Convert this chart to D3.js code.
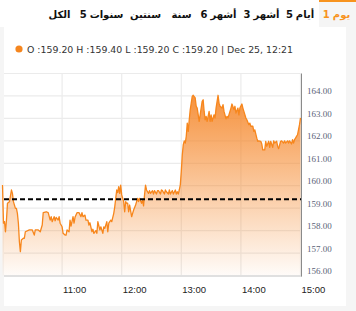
<!doctype html>
<html lang="ar">
<head>
<meta charset="utf-8">
<title>1 يوم</title>
<script src="https://d3js.org/d3.v7.min.js"></script>
<style>
  body { margin: 0; background: #f5f5f5; }
  svg { display: block; }
  .tab text { font-family: "DejaVu Sans", sans-serif; font-size: 10px; font-weight: bold; fill: #111; }
  .tab.active text { fill: #f7931e; }
  .legend { font-family: "DejaVu Sans", sans-serif; font-size: 9.4px; fill: #333; }
  .ylab { font-family: "Liberation Serif", serif; font-size: 9px; fill: #5a6378; }
  .xlab { font-family: "Liberation Sans", sans-serif; font-size: 9.5px; fill: #222; }
</style>
</head>
<body>
<script>
// period tabs, right to left
var tabs = ["1 يوم", "5 أيام", "3 أشهر", "6 أشهر", "سنة", "سنتين", "5 سنوات", "الكل"];
var tabCenters = [336.5, 300, 261.5, 218.5, 181.5, 145.5, 101.5, 59.5];

var legendText = "O :159.20 H :159.40 L :159.20 C :159.20 | Dec 25, 12:21";

// intraday series, minutes after 10:00 and price
var minutesFromOpen = [
  0, 1, 2, 3, 4, 5, 7, 9, 10, 11, 13, 14, 15, 16, 17, 18, 19, 21, 22, 23,
  27, 30, 32, 33, 36, 38, 40, 41, 44, 46, 48, 49, 50, 52, 53, 54, 56, 57, 58, 60,
  61, 63, 64, 65, 67, 68, 69, 71, 72, 73, 75, 77, 79, 80, 81, 83, 84, 86, 87, 88,
  90, 91, 92, 94, 95, 96, 98, 99, 101, 102, 103, 105, 106, 107, 109, 110, 112, 113, 114, 115,
  116, 117, 118, 119, 120, 122, 123, 124, 125, 126, 127, 128, 130, 131, 132, 134, 135, 136, 137, 138,
  140, 141, 142, 143, 144, 145, 147, 148, 149, 151, 152, 153, 155, 156, 157, 159, 160, 161, 163, 164,
  165, 167, 168, 169, 171, 172, 174, 175, 176, 177, 178, 179, 180, 181, 182, 183, 184, 185, 186, 187,
  188, 189, 190, 191, 192, 194, 195, 196, 198, 199, 201, 202, 203, 204, 205, 206, 208, 209, 210, 211,
  213, 214, 215, 217, 218, 219, 221, 222, 223, 225, 226, 227, 229, 230, 231, 233, 234, 235, 237, 238,
  239, 241, 242, 243, 245, 246, 248, 249, 250, 252, 253, 254, 256, 257, 258, 260, 261, 262, 264, 265,
  266, 268, 269, 270, 272, 273, 274, 276, 277, 278, 280, 281, 283, 284, 285, 287, 288, 289, 291, 292,
  293, 294, 295, 296, 297, 299, 300
];
var prices = [
  160.03, 158.33, 158.40, 157.95, 158.47, 159.22, 159.29, 159.81, 159.66, 159.29, 158.99, 158.99, 158.77, 158.33, 157.51, 157.06, 157.58, 157.66, 157.66, 157.95,
  158.03, 158.03, 157.80, 158.03, 158.03, 157.95, 158.25, 158.80, 158.84, 158.80, 158.47, 158.62, 158.40, 158.62, 158.44, 158.59, 158.47, 158.62, 158.33, 158.17,
  157.88, 157.80, 157.80, 158.03, 157.95, 158.47, 158.20, 158.62, 158.33, 158.59, 158.80, 158.80, 158.62, 158.80, 158.62, 158.69, 158.47, 158.47, 158.25, 158.35,
  157.95, 158.06, 157.88, 158.00, 157.88, 158.40, 158.03, 158.17, 157.88, 158.17, 158.10, 158.40, 157.95, 158.33, 158.47, 158.40, 158.77, 159.06, 159.44, 159.81,
  159.69, 159.96, 159.66, 160.03, 159.59, 159.29, 158.84, 159.29, 159.22, 159.22, 158.84, 159.14, 158.62, 158.77, 158.92, 159.14, 159.29, 159.44, 159.29, 159.44,
  159.22, 159.36, 159.10, 159.59, 160.03, 159.81, 159.66, 159.78, 159.66, 159.78, 159.63, 159.78, 159.63, 159.78, 159.78, 159.63, 159.81, 159.78, 159.63, 159.81,
  159.73, 159.63, 159.81, 159.63, 159.78, 159.63, 159.81, 159.63, 159.73, 159.63, 159.82, 160.04, 160.64, 161.38, 161.83, 162.00, 161.90, 162.20, 162.79, 162.42,
  162.94, 163.39, 163.68, 163.98, 164.03, 163.91, 163.54, 163.46, 162.87, 163.16, 163.76, 163.83, 163.31, 162.94, 163.09, 162.87, 163.31, 162.87, 163.16, 162.87,
  163.16, 163.02, 163.46, 164.03, 163.68, 163.54, 163.46, 163.61, 163.31, 162.98, 163.09, 163.02, 163.31, 163.46, 163.64, 163.39, 163.54, 163.24, 163.46, 163.16,
  163.46, 163.64, 163.46, 163.31, 163.02, 162.94, 162.72, 162.79, 162.65, 162.65, 162.42, 162.49, 162.12, 161.98, 162.00, 161.98, 161.86, 161.60, 161.60, 161.98,
  161.76, 161.98, 161.71, 161.98, 161.71, 162.00, 161.90, 161.98, 161.76, 161.65, 161.98, 162.00, 161.90, 162.00, 161.90, 162.00, 161.90, 162.00, 161.86, 162.05,
  161.90, 162.05, 162.12, 162.20, 162.27, 162.72, 163.02
];
var prevClose = 159.40;
var priceTicks = [156, 157, 158, 159, 160, 161, 162, 163, 164];
var hourTicks = ["11:00", "12:00", "13:00", "14:00", "15:00"];

var W = 356, H = 311;
var parseTime = d3.timeParse("%H:%M");
var openTime = parseTime("10:00");
var data = minutesFromOpen.map(function(m, i) {
  return { t: d3.timeMinute.offset(openTime, m), v: prices[i] };
});

var x = d3.scaleTime()
  .domain([openTime, parseTime("15:00")])
  .range([2.5, 300.5]);
var y = d3.scaleLinear()
  .domain([156, 165])
  .range([275.5, 73.5]);

var svg = d3.select("body").append("svg")
  .attr("width", W)
  .attr("height", H);

svg.append("rect").attr("width", W).attr("height", H).attr("fill", "#f5f5f5");
// tab bar
svg.append("rect").attr("width", W).attr("height", 27).attr("fill", "#fff");
svg.append("rect").attr("x", 319).attr("y", 0).attr("width", 37).attr("height", 27).attr("fill", "#f5f5f5");
svg.append("rect").attr("x", 319).attr("y", 0).attr("width", 37).attr("height", 2).attr("fill", "#f7931e");

// number and word drawn as separate pieces, number on the left like the original
var tabG = svg.selectAll(".tab")
  .data(tabs)
  .enter().append("g")
  .attr("class", function(d, i) { return i == 0 ? "tab active" : "tab"; });

tabG.each(function(d, i) {
  var g = d3.select(this);
  var parts = d.split(" ");
  var pieces = parts.length == 2 ? parts : [d];
  var texts = pieces.map(function(p) {
    return g.append("text").attr("y", 18).text(p);
  });
  var gap = 3;
  var widths = texts.map(function(t) { return t.node().getComputedTextLength(); });
  var total = d3.sum(widths) + gap * (widths.length - 1);
  var cx = tabCenters[i] - total / 2;
  texts.forEach(function(t, k) {
    t.attr("x", cx);
    cx += widths[k] + gap;
  });
});

// card
svg.append("rect").attr("x", 4).attr("y", 27).attr("width", 342).attr("height", 279).attr("fill", "#fff");

// legend row
svg.append("circle").attr("cx", 19).attr("cy", 49).attr("r", 3.6).attr("fill", "#f5861f");
svg.append("text").attr("class", "legend").attr("x", 27).attr("y", 52.5).text(legendText);

var defs = svg.append("defs");
var grad = defs.append("linearGradient")
  .attr("id", "fillGrad")
  .attr("gradientUnits", "userSpaceOnUse")
  .attr("x1", 0).attr("x2", 0)
  .attr("y1", y(164)).attr("y2", y(156));
grad.append("stop").attr("offset", "0%").attr("stop-color", "#f5872a").attr("stop-opacity", 0.9);
grad.append("stop").attr("offset", "100%").attr("stop-color", "#f5872a").attr("stop-opacity", 0.03);

var plot = svg.append("g");

// grid
plot.selectAll(".hgrid")
  .data(priceTicks.concat([165]))
  .enter().append("line")
  .attr("x1", 4).attr("x2", x(parseTime("15:00")))
  .attr("y1", function(d) { return y(d); })
  .attr("y2", function(d) { return y(d); })
  .attr("stroke", "#ebebeb")
  .attr("stroke-width", 1.2);

plot.selectAll(".vgrid")
  .data(hourTicks)
  .enter().append("line")
  .attr("x1", function(d) { return x(parseTime(d)); })
  .attr("x2", function(d) { return x(parseTime(d)); })
  .attr("y1", y(165)).attr("y2", y(156))
  .attr("stroke", "#ebebeb")
  .attr("stroke-width", 1.2);

var area = d3.area()
  .x(function(d) { return x(d.t); })
  .y0(y(156))
  .y1(function(d) { return y(d.v); });

var line = d3.line()
  .x(function(d) { return x(d.t); })
  .y(function(d) { return y(d.v); });

plot.append("path").datum(data)
  .attr("d", area)
  .attr("fill", "url(#fillGrad)");

plot.append("path").datum(data)
  .attr("d", line)
  .attr("fill", "none")
  .attr("stroke", "#f7861c")
  .attr("stroke-width", 1.3)
  .attr("stroke-linejoin", "round");

// previous close
plot.append("line")
  .attr("x1", 4).attr("x2", 301)
  .attr("y1", y(prevClose)).attr("y2", y(prevClose))
  .attr("stroke", "#000")
  .attr("stroke-width", 2)
  .attr("stroke-dasharray", "5,3");

// bottom border and right axis
plot.append("line")
  .attr("x1", 4).attr("x2", 302)
  .attr("y1", y(156) + 0.5).attr("y2", y(156) + 0.5)
  .attr("stroke", "#e0e0e0").attr("stroke-width", 2);
plot.append("line")
  .attr("x1", 301.5).attr("x2", 301.5)
  .attr("y1", y(165)).attr("y2", y(156) + 1)
  .attr("stroke", "#8a8a8a").attr("stroke-width", 1);

plot.selectAll(".ylab")
  .data(priceTicks)
  .enter().append("text")
  .attr("class", "ylab")
  .attr("x", 307)
  .attr("y", function(d) { return y(d) - 1.5; })
  .text(function(d) { return d3.format(".2f")(d); });

plot.selectAll(".xlab")
  .data(hourTicks)
  .enter().append("text")
  .attr("class", "xlab")
  .attr("x", function(d) { return x(parseTime(d)) + 1; })
  .attr("y", 292.5)
  .text(function(d) { return d; });
</script>
</body>
</html>
